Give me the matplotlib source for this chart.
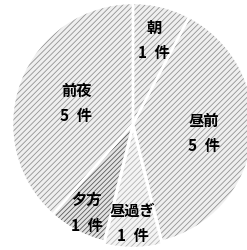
import matplotlib
matplotlib.use('Agg')
import matplotlib.pyplot as plt
import numpy as np

plt.rcParams['font.family'] = ['Noto Sans CJK JP', 'DejaVu Sans']
plt.rcParams['hatch.linewidth'] = 0.6

labels = ['朝', '昼前', '昼過ぎ', '夕方', '前夜']
counts = [1, 5, 1, 1, 5]
face_colors = ['#efefef', '#efefef', '#f4f4f4', '#e2e2e2', '#efefef']
hatch_colors = ['#939393', '#939393', '#b4b4b4', '#5a5a5a', '#939393']
hatches = ['//////', '//////', '//////', '///////', '//////']
explode = [0, 0, 0.025, 0, 0]
label_r = [0.72, 0.59, 0.79, 0.82, 0.50]

fig = plt.figure(figsize=(2.47, 2.51), dpi=100)
ax = fig.add_axes([0, 0, 1, 1])

# filled + hatched wedges
wedges, _ = ax.pie(counts, startangle=90, counterclock=False, explode=explode,
                   colors=face_colors, wedgeprops=dict(linewidth=0))
for w, h, hc in zip(wedges, hatches, hatch_colors):
    w.set_hatch(h)
    w.set_edgecolor(hc)
    w.set_linewidth(0)

# white borders on top
borders, _ = ax.pie(counts, startangle=90, counterclock=False, explode=explode,
                    colors=['none'] * len(counts),
                    wedgeprops=dict(edgecolor='white', linewidth=1.8))

for w, lab, c, r in zip(wedges, labels, counts, label_r):
    ang = np.deg2rad((w.theta1 + w.theta2) / 2)
    cx, cy = w.center
    ax.text(cx + r * np.cos(ang), cy + r * np.sin(ang), f'{lab}\n{c}\u2002件',
            ha='center', va='center', fontsize=11, fontweight='bold',
            linespacing=1.75, color='black')

ax.set_xlim(-133 / 121, (247 - 133) / 121)
ax.set_ylim(-(251 - 125) / 121, 125 / 121)
ax.set_aspect('auto')
ax.axis('off')

fig.savefig('out.png', dpi=100)
